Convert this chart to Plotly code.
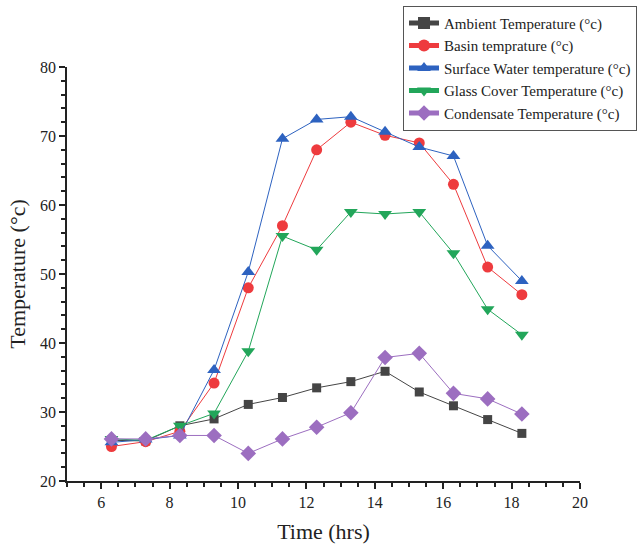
import plotly.graph_objects as go

time_hrs = [6.3, 7.3, 8.3, 9.3, 10.3, 11.3, 12.3, 13.3, 14.3, 15.3, 16.3, 17.3, 18.3]
ambient = [25.9, 25.8, 28.0, 29.0, 31.1, 32.1, 33.5, 34.4, 35.9, 32.9, 30.9, 28.9, 26.9]
basin = [25.0, 25.7, 27.2, 34.2, 48.0, 57.0, 68.0, 72.0, 70.1, 69.0, 63.0, 51.0, 47.0]
surface = [25.6, 26.0, 26.6, 36.1, 50.3, 69.6, 72.4, 72.8, 70.6, 68.4, 67.1, 54.1, 49.0]
glass = [26.1, 25.9, 28.0, 29.8, 38.8, 55.5, 53.5, 59.0, 58.7, 59.0, 53.0, 44.9, 41.2]
condensate = [26.1, 26.1, 26.6, 26.6, 24.0, 26.1, 27.8, 29.9, 37.9, 38.5, 32.7, 31.9, 29.7]

series = [
    ("Ambient Temperature (°c)", ambient, "#454545", "square", 9),
    ("Basin temprature (°c)", basin, "#ee3b3e", "circle", 11),
    ("Surface Water temperature (°c)", surface, "#2d62c0", "triangle-up", 12),
    ("Glass Cover Temperature (°c)", glass, "#22a65a", "triangle-down", 12),
    ("Condensate Temperature (°c)", condensate, "#9c6ec0", "diamond", 12),
]

fig = go.Figure()
for name, vals, col, sym, sz in series:
    fig.add_trace(go.Scatter(
        x=time_hrs, y=vals, name=name, mode="lines+markers",
        line=dict(color=col, width=1),
        marker=dict(symbol=sym, size=sz, color=col),
    ))

font_family = "Liberation Serif, Times New Roman, serif"
axis_common = dict(
    showline=True, linecolor="#222", linewidth=1.5, mirror=False,
    ticks="outside", ticklen=6, tickwidth=1.5, tickcolor="#222",
    showgrid=False, zeroline=False,
    tickfont=dict(family=font_family, size=16, color="#222"),
    minor=dict(ticks="outside", ticklen=4, tickwidth=1.5, tickcolor="#222"),
)

fig.update_layout(
    width=638, height=552,
    margin=dict(l=67, r=58, t=67, b=71, autoexpand=False),
    paper_bgcolor="white", plot_bgcolor="white",
    font=dict(family=font_family, color="#222"),
    xaxis=dict(range=[5, 20], dtick=2, tick0=6,
               title=dict(text="Time (hrs)", font=dict(family=font_family, size=22), standoff=14),
               **axis_common),
    yaxis=dict(range=[20, 80], dtick=10,
               title=dict(text="Temperature (°c)", font=dict(family=font_family, size=22), standoff=8),
               **axis_common),
    legend=dict(x=0.655, y=1.148, xanchor="left", yanchor="top",
                bordercolor="#555", borderwidth=1, bgcolor="white",
                font=dict(family=font_family, size=15, color="#222"),
                tracegroupgap=0, itemsizing="constant"),
    showlegend=True,
)

fig.write_html("out.html")
